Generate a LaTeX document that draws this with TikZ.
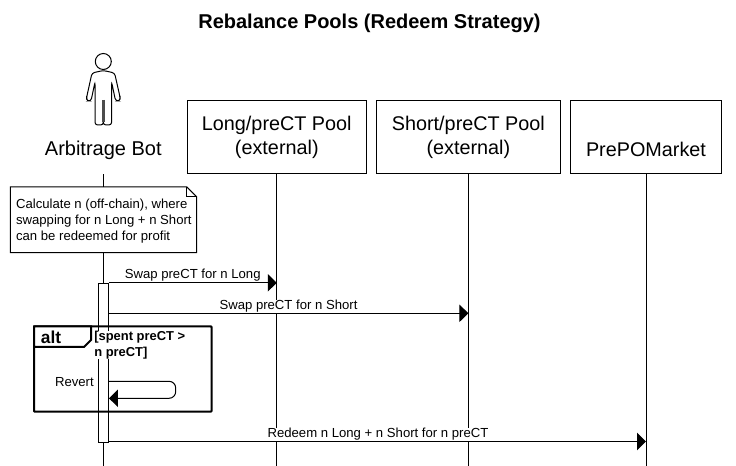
\documentclass[tikz,border=0pt]{standalone}
\usepackage{fontspec}
\setmainfont{Liberation Sans}
\usetikzlibrary{arrows.meta}
\tikzset{
    actorbox/.style={draw, fill=white, line width=0.75pt, minimum height=54.75pt, align=center, inner sep=0pt, font=\fontsize{14.85}{18}\selectfont},
    lifeline/.style={line width=0.75pt},
    msg/.style={line width=0.75pt, -{Triangle[length=6.75pt,width=13pt]}},
    msglabel/.style={fill=white, inner xsep=0pt, inner ysep=0.5pt, font=\fontsize{9.85}{12}\selectfont},
}
\begin{document}
\begin{tikzpicture}[x=0.75pt, y=-0.75pt]
    \useasboundingbox (0,0) rectangle (736,466);
    \coordinate (bottom) at (0,466);
    \node[font=\bfseries\fontsize{15}{18}\selectfont] (title) at (369.5,23.5) {Rebalance Pools (Redeem Strategy)};

    % participants
    \node[actorbox, minimum width=134.4pt] (long) at (276.8,137.5) {\raisebox{-2.2pt}{Long/preCT Pool}\\\raisebox{-2.2pt}{(external)}};
    \node[actorbox, minimum width=138pt] (short) at (468.4,137.5) {\raisebox{-2.2pt}{Short/preCT Pool}\\\raisebox{-2.2pt}{(external)}};
    \node[actorbox, minimum width=113.4pt] (market) at (646,137.5) {\vphantom{(}\\[1pt]\raisebox{0.5pt}{PrePOMarket}};
    \node[inner sep=0pt, font=\fontsize{15}{19}\selectfont] (bot) at (103.3,150) {Arbitrage Bot};

    % actor figure
    \draw[line width=0.75pt] (103.3,61.5) circle (8);
    \draw[line width=0.75pt, rounded corners=2pt] (103.3,70.5) -- (92,73) -- (86.7,97) -- (86.7,101) -- (91,101) -- (95,82) -- (95,125) -- (103.3,125) -- (103.3,100) -- (103.3,125) -- (111.6,125) -- (111.6,82) -- (115.6,101) -- (120,101) -- (120,97) -- (114.6,73) -- cycle;
    \draw[line width=2.2pt, black!70] (103.3,100) -- (103.3,122);

    % lifelines
    \draw[lifeline] (bot.south |- long.south) -- (bot.south |- bottom);
    \draw[lifeline] (long.south) -- (long.south |- bottom);
    \draw[lifeline] (short.south) -- (short.south |- bottom);
    \draw[lifeline] (market.south) -- (market.south |- bottom);

    % note
    \node[fill=white, minimum width=139.3pt, minimum height=48.9pt, inner sep=0pt] (calc) at (103.6,219.7) {};
    \draw[line width=0.75pt] (calc.north west) -- ([xshift=-7.5pt]calc.north east) -- ([yshift=-7.5pt]calc.north east) -- (calc.south east) -- (calc.south west) -- cycle;
    \draw[line width=0.75pt] ([xshift=-7.5pt]calc.north east) -- ([xshift=-7.5pt,yshift=-7.5pt]calc.north east) -- ([yshift=-7.5pt]calc.north east);
    \node[anchor=west, align=left, inner sep=0pt, font=\fontsize{9.85}{12}\selectfont] (calctext) at ([xshift=4pt,yshift=-1pt]calc.west) {Calculate n (off-chain), where\\swapping for n Long + n Short\\can be redeemed for profit};

    % activation bar
    \node[draw, fill=white, line width=0.75pt, minimum width=7.6pt, minimum height=119.2pt, inner sep=0pt] (bar) at (103.4,362.8) {};
    \coordinate (ytwo) at (0,313.3);
    \coordinate (ythree) at (0,441.5);

    % messages
    \draw[msg] (bar.north east) -- (long.south |- bar.north);
    \draw[msg] (bar.east |- ytwo) -- (short.south |- ytwo);
    \draw[msg] (bar.east |- ythree) -- (market.south |- ythree);
    \node[msglabel] (swaplong) at (192.7,275) {Swap preCT for n Long};
    \node[msglabel] (swapshort) at (288.5,306.5) {Swap preCT for n Short};
    \node[msglabel] (redeem) at (378,434.5) {Redeem n Long + n Short for n preCT};

    % alt frame
    \draw[line width=1.5pt, rounded corners=0.5pt] (34,326.5) rectangle (211.5,411.7);
    \node[fill=white, anchor=north west, align=left, inner xsep=0pt, inner ysep=0pt, font=\bfseries\fontsize{9.7}{12}\selectfont] (cond) at (94,331) {[spent preCT >\\n preCT]};
    \draw[line width=1.5pt, fill=white] (34,326.5) -- (91,326.5) -- (91,340) -- (84,347) -- (34,347) -- cycle;
    \node[font=\bfseries\fontsize{13}{15}\selectfont, inner sep=0pt] (alt) at (51,337.5) {alt};

    % self call
    \coordinate (selfout) at (0,381.3);
    \coordinate (selfback) at (0,398.3);
    \draw[msg, rounded corners=5pt] (bar.east |- selfout) -- (175.7,381.3) -- (175.7,398.3) -- (bar.east |- selfback);
    \node[font=\fontsize{9.85}{12}\selectfont, inner sep=0pt, anchor=east] (revert) at (94,382) {Revert};
\end{tikzpicture}
\end{document}
